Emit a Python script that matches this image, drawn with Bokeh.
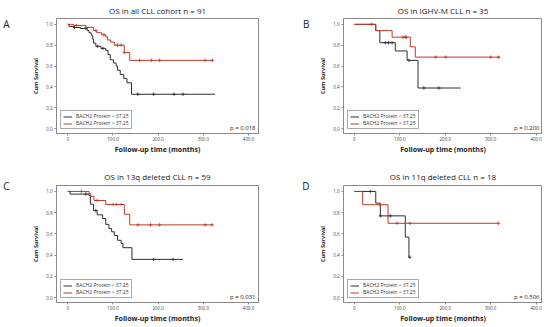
from bokeh.plotting import figure
from bokeh.layouts import gridplot
from bokeh.models import Label, Legend, LegendItem, LinearAxis, FixedTicker
from bokeh.embed import file_html
from bokeh.resources import INLINE

FONT = "Open Sans"

titles = ["OS in all CLL cohort n = 91", "OS in IGHV-M CLL n = 35",
          "OS in 13q deleted CLL n = 59", "OS in 11q deleted CLL n = 18"]
letters = ["A", "B", "C", "D"]
pvals = ["p = 0.018", "p = 0.200", "p = 0.031", "p = 0.506"]
legend_labels = ["BACH2 Protein < 37.25", "BACH2 Protein > 37.25"]
x_ticks = [0, 100, 200, 300, 400]
x_tick_labels = ["0", "100.0", "200.0", "300.0", "400.0"]
y_ticks = [0.0, 0.2, 0.4, 0.6, 0.8, 1.0]
y_tick_labels = ["0.0", "0.2", "0.4", "0.6", "0.8", "1.0"]

# Panel A
a_low_time = [3, 14, 28, 43, 47, 51, 53, 55, 57, 62, 73, 84, 89, 94, 101, 107, 110, 116, 124, 131, 141]
a_low_surv = [0.98, 0.97, 0.96, 0.94, 0.92, 0.91, 0.89, 0.86, 0.82, 0.79, 0.77, 0.75, 0.71, 0.66, 0.63, 0.60, 0.56, 0.52, 0.48, 0.44, 0.33]
a_low_cens = [15, 40, 66, 78, 155, 190, 235, 255]
a_low_end = 326
a_high_time = [13, 40, 57, 64, 75, 84, 88, 95, 103, 125, 137]
a_high_surv = [0.99, 0.97, 0.94, 0.92, 0.90, 0.88, 0.85, 0.83, 0.80, 0.73, 0.655]
a_high_cens = [19, 40, 62, 80, 110, 118, 125, 159, 185, 203, 304, 320]
a_high_end = 322

# Panel B
b_low_time = [47, 56, 90, 116, 140]
b_low_surv = [0.94, 0.824, 0.745, 0.655, 0.39]
b_low_cens = [68, 75, 83, 120, 153, 186]
b_low_end = 234
b_high_time = [47, 83, 123, 134]
b_high_surv = [0.94, 0.877, 0.785, 0.686]
b_high_cens = [38, 107, 112, 114, 179, 201, 300, 317]
b_high_end = 321

# Panel C
c_low_time = [5, 47, 50, 57, 65, 77, 84, 91, 97, 103, 110, 118, 122, 142]
c_low_surv = [0.975, 0.96, 0.88, 0.82, 0.78, 0.745, 0.69, 0.65, 0.62, 0.585, 0.54, 0.51, 0.47, 0.36]
c_low_cens = [40, 62, 190, 233]
c_low_end = 255
c_high_time = [47, 51, 58, 84, 125, 137]
c_high_surv = [0.98, 0.955, 0.915, 0.877, 0.785, 0.685]
c_high_cens = [30, 65, 100, 108, 118, 155, 183, 203, 304, 319]
c_high_end = 322

# Panel D
d_low_time = [47, 57, 112, 120]
d_low_surv = [0.89, 0.77, 0.57, 0.38]
d_low_cens = [35, 57, 79, 122]
d_low_end = 122
d_high_time = [18, 74]
d_high_surv = [0.875, 0.70]
d_high_cens = [57, 94, 122, 317]
d_high_end = 317

panels = [
    (a_low_time, a_low_surv, a_low_cens, a_low_end, a_high_time, a_high_surv, a_high_cens, a_high_end),
    (b_low_time, b_low_surv, b_low_cens, b_low_end, b_high_time, b_high_surv, b_high_cens, b_high_end),
    (c_low_time, c_low_surv, c_low_cens, c_low_end, c_high_time, c_high_surv, c_high_cens, c_high_end),
    (d_low_time, d_low_surv, d_low_cens, d_low_end, d_high_time, d_high_surv, d_high_cens, d_high_end),
]

BLACK = "#2e2e2e"
RED = "#c0392b"
GRAY = "#8a8a8a"


def surv_at(t, times, surv):
    s = 1.0
    for ti, si in zip(times, surv):
        if ti <= t:
            s = si
    return s


def make_panel(i):
    left_col = i % 2 == 0
    top_row = i < 2
    x_start, x_end = (-25, 422) if left_col else (-24, 414)
    y_start, y_end = -0.046, 1.056
    p = figure(width=270 if left_col else 272, height=160 if top_row else 165,
               x_range=(x_start, x_end), y_range=(y_start, y_end),
               output_backend="svg", toolbar_location=None,
               min_border_left=55 if left_col else 73,
               min_border_right=12 if left_col else 0,
               min_border_top=13 if top_row else 25,
               min_border_bottom=27 if top_row else 20)
    p.xgrid.visible = False
    p.ygrid.visible = False
    p.outline_line_color = GRAY
    p.outline_line_width = 1
    p.background_fill_color = "white"
    p.border_fill_color = "white"

    p.title.text = titles[i]
    p.title.align = "center"
    p.title.text_font = FONT
    p.title.text_font_size = "8px"
    p.title.text_font_style = "normal"
    p.title.text_color = "#222222"
    p.title.standoff = 5 if top_row else 7

    for ax in (p.xaxis[0], p.yaxis[0]):
        ax.axis_line_color = GRAY
        ax.major_tick_line_color = GRAY
        ax.minor_tick_line_color = None
        ax.major_tick_out = 2
        ax.major_tick_in = 0
        ax.major_label_text_font = FONT
        ax.major_label_text_font_size = "4.5px"
        ax.major_label_text_color = "#444444"
        ax.major_label_standoff = 2
        ax.axis_label_text_font = FONT
        ax.axis_label_text_font_style = "bold"
        ax.axis_label_text_color = "#222222"
    p.xaxis.ticker = x_ticks
    p.xaxis.major_label_overrides = dict(zip(x_ticks, x_tick_labels))
    p.xaxis.major_label_standoff = 1
    p.yaxis.ticker = y_ticks
    p.yaxis.major_label_overrides = dict(zip(y_ticks, y_tick_labels))
    p.xaxis.axis_label = "Follow-up time (months)"
    p.xaxis.axis_label_text_font_size = "7px"
    p.xaxis.axis_label_standoff = 1
    p.yaxis.axis_label = "Cum Survival"
    p.yaxis.axis_label_text_font_size = "5.5px"
    p.yaxis.axis_label_standoff = 3

    # panel letter as an outer, line-less axis with a single tick label
    ly = 1.0 if top_row else 1.05
    letter_axis = LinearAxis(ticker=FixedTicker(ticks=[ly]),
                             major_label_overrides={ly: letters[i]},
                             axis_line_color=None, major_tick_line_color=None,
                             minor_tick_line_color=None, major_tick_out=0, major_tick_in=0,
                             major_label_standoff=20 if left_col else 7,
                             major_label_text_font=FONT, major_label_text_font_size="10px",
                             major_label_text_color="#222222")
    p.add_layout(letter_axis, "left")

    lt, ls, lc, le, ht, hs, hc, he = panels[i]
    items = []
    for times, surv, cens, end, color, lab in ((lt, ls, lc, le, BLACK, legend_labels[0]),
                                               (ht, hs, hc, he, RED, legend_labels[1])):
        xs = [0] + list(times) + [end]
        ys = [1.0] + list(surv) + [surv[-1]]
        r = p.step(xs, ys, mode="after", line_color=color, line_width=1)
        cy = [surv_at(t, times, surv) for t in cens]
        p.scatter(cens, cy, marker="cross", size=3.5, line_color=color, line_width=0.8)
        items.append(LegendItem(label=lab, renderers=[r]))

    leg = Legend(items=items, location="bottom_left")
    leg.label_text_font = FONT
    leg.label_text_font_size = "5px"
    leg.label_text_line_height = 1.0
    leg.label_text_color = "#333333"
    leg.label_height = 5
    leg.glyph_height = 5
    leg.glyph_width = 9
    leg.label_standoff = 4
    leg.spacing = 1
    leg.padding = 2
    leg.margin = 4
    leg.border_line_color = "#555555"
    leg.border_line_width = 0.8
    leg.background_fill_alpha = 1
    p.add_layout(leg)

    p.add_layout(Label(x=x_end, y=0.01, x_offset=-3, text=pvals[i], text_align="right",
                       text_baseline="middle", text_font=FONT, text_font_size="6px",
                       text_color="#222222"))
    return p


figs = [make_panel(i) for i in range(4)]
grid = gridplot([[figs[0], figs[1]], [figs[2], figs[3]]], toolbar_location=None)

open("out.html", "w").write(file_html(grid, INLINE))
